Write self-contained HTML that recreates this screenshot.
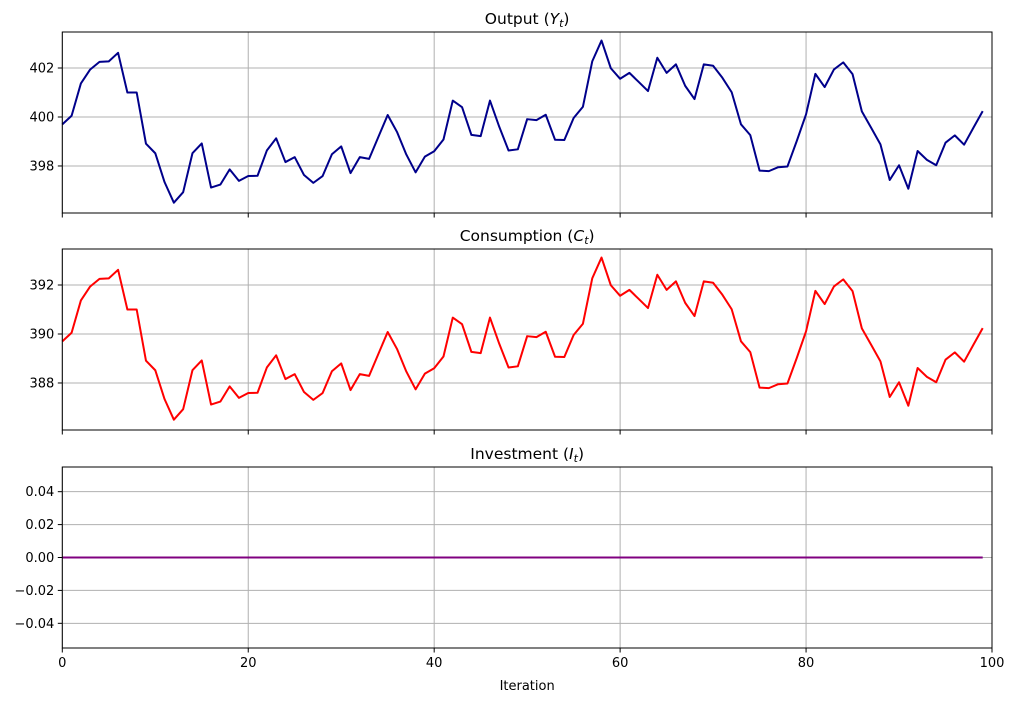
<!DOCTYPE html>
<html><head><meta charset="utf-8"><style>
body{margin:0;background:#fff;}
svg{display:block;font-family:"DejaVu Sans","Liberation Sans",sans-serif;}
</style></head><body>
<svg id="fig" width="1015" height="701" viewBox="0 0 1015 701" xmlns="http://www.w3.org/2000/svg"></svg>
<script>
const iterations = Array.from({length:100},(_,i)=>i);
const outputValues = [399.70,400.05,401.37,401.94,402.25,402.27,402.62,401.0,401.0,398.91,398.52,397.34,396.50,396.93,398.52,398.92,397.12,397.24,397.86,397.39,397.59,397.60,398.63,399.13,398.16,398.36,397.63,397.31,397.59,398.48,398.80,397.71,398.36,398.29,399.19,400.08,399.39,398.47,397.74,398.38,398.60,399.08,400.67,400.40,399.27,399.22,400.67,399.60,398.63,398.68,399.91,399.87,400.09,399.07,399.06,399.96,400.42,402.27,403.12,401.99,401.56,401.80,401.43,401.06,402.42,401.80,402.15,401.27,400.73,402.15,402.09,401.60,401.01,399.70,399.26,397.81,397.79,397.95,397.98,399.02,400.11,401.76,401.22,401.94,402.23,401.75,400.23,399.56,398.88,397.43,398.03,397.07,398.61,398.25,398.03,398.95,399.25,398.87,399.56,400.24];
const consumptionValues = [389.70,390.05,391.37,391.94,392.25,392.27,392.62,391.0,391.0,388.91,388.52,387.34,386.50,386.93,388.52,388.92,387.12,387.24,387.86,387.39,387.59,387.60,388.63,389.13,388.16,388.36,387.63,387.31,387.59,388.48,388.80,387.71,388.36,388.29,389.19,390.08,389.39,388.47,387.74,388.38,388.60,389.08,390.67,390.40,389.27,389.22,390.67,389.60,388.63,388.68,389.91,389.87,390.09,389.07,389.06,389.96,390.42,392.27,393.12,391.99,391.56,391.80,391.43,391.06,392.42,391.80,392.15,391.27,390.73,392.15,392.09,391.60,391.01,389.70,389.26,387.81,387.79,387.95,387.98,389.02,390.11,391.76,391.22,391.94,392.23,391.75,390.23,389.56,388.88,387.43,388.03,387.07,388.61,388.25,388.03,388.95,389.25,388.87,389.56,390.24];
const investmentValues = [0,0,0,0,0,0,0,0,0,0,0,0,0,0,0,0,0,0,0,0,0,0,0,0,0,0,0,0,0,0,0,0,0,0,0,0,0,0,0,0,0,0,0,0,0,0,0,0,0,0,0,0,0,0,0,0,0,0,0,0,0,0,0,0,0,0,0,0,0,0,0,0,0,0,0,0,0,0,0,0,0,0,0,0,0,0,0,0,0,0,0,0,0,0,0,0,0,0,0,0];
const xTicks = [0,20,40,60,80,100];
const outputTicks = [398,400,402];
const consumptionTicks = [388,390,392];
const investmentTicks = [-0.04,-0.02,0.00,0.02,0.04];

const NS="http://www.w3.org/2000/svg";
const svg=document.getElementById('fig');
function mk(tag,attrs,parent){const e=document.createElementNS(NS,tag);for(const k in attrs)e.setAttribute(k,attrs[k]);(parent||svg).appendChild(e);return e;}
const X0=62.3,X1=992;
const xs=v=>X0+(v-0)/(100-0)*(X1-X0);

function panel(key,top,bottom,ymin,ymax,ticks,fmt,vals,color,titleMain,sub,showXLabels){
  const ys=v=>bottom-(v-ymin)/(ymax-ymin)*(bottom-top);
  const g=mk('g',{});
  
  
  xTicks.forEach(t=>{
    const l=mk('line',{x1:xs(t),x2:xs(t),y1:top,y2:bottom,stroke:'#b0b0b0','stroke-width':1},g);
    
    
    const tk=mk('line',{x1:xs(t),x2:xs(t),y1:bottom,y2:bottom+4.5,stroke:'#000','stroke-width':1},g);
    
    
    if(showXLabels){
      const tx=mk('text',{x:xs(t),y:bottom+19,'text-anchor':'middle','font-size':'13px',fill:'#000'},g);
      tx.textContent=t;
      
      
    }
  });
  ticks.forEach(t=>{
    const y=ys(t);
    const l=mk('line',{x1:X0,x2:X1,y1:y,y2:y,stroke:'#b0b0b0','stroke-width':1},g);
    
    
    const tk=mk('line',{x1:X0-4.5,x2:X0,y1:y,y2:y,stroke:'#000','stroke-width':1},g);
    
    
    const tx=mk('text',{x:X0-8,y:y+4.5,'text-anchor':'end','font-size':'13px',fill:'#000'},g);
    tx.textContent=fmt(t);
    
    
  });
  const d=vals.map((v,i)=>(i?'L':'M')+xs(iterations[i]).toFixed(2)+' '+ys(v).toFixed(2)).join(' ');
  const p=mk('path',{d:d,fill:'none',stroke:color,'stroke-width':2,'stroke-linejoin':'round'},g);
  
  
  const r=mk('rect',{x:X0,y:top,width:X1-X0,height:bottom-top,fill:'none',stroke:'#000','stroke-width':1},g);
  
  
  const tt=mk('text',{x:(X0+X1)/2,y:top-8,'text-anchor':'middle','font-size':'15.5px',fill:'#000'},g);
  tt.innerHTML=titleMain+' (<tspan font-style="italic">'+sub[0]+'</tspan><tspan font-style="italic" font-size="11px" dy="3">'+sub[1]+'</tspan><tspan dy="-3">)</tspan>';
  
  
}
panel('output',32,213,396.08,403.47,outputTicks,v=>String(v),outputValues,'#00008b','Output',['Y','t'],false);
panel('consumption',249,430,386.08,393.47,consumptionTicks,v=>String(v),consumptionValues,'#ff0000','Consumption',['C','t'],false);
panel('investment',467,648,-0.055,0.055,investmentTicks,v=>(v<0?'\u2212':'')+Math.abs(v).toFixed(2),investmentValues,'#800080','Investment',['I','t'],true);
const xl=mk('text',{x:(X0+X1)/2,y:690,'text-anchor':'middle','font-size':'13px',fill:'#000'});
xl.textContent='Iteration';


</script>
</body></html>
